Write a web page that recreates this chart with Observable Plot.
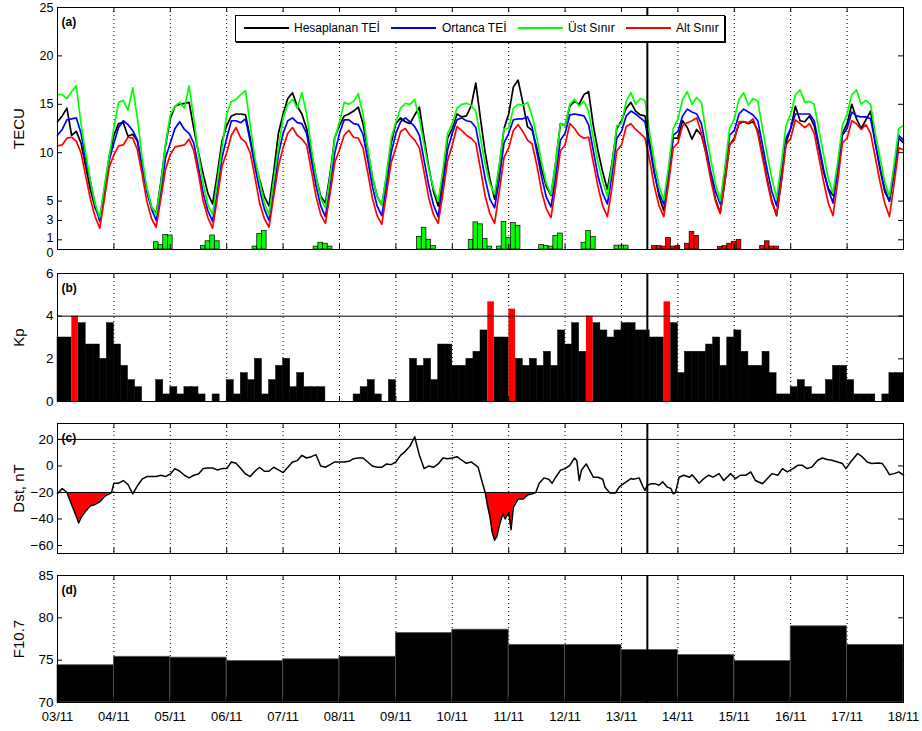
<!DOCTYPE html>
<html><head><meta charset="utf-8">
<script src="https://cdn.jsdelivr.net/npm/d3@7"></script>
<script src="https://cdn.jsdelivr.net/npm/@observablehq/plot@0.6"></script>
<style>
body{margin:0;background:#fff;}
#chart{position:relative;width:922px;height:731px;font-family:"Liberation Sans",Arial,Helvetica,sans-serif;overflow:hidden;}
#chart svg{position:absolute;left:0;overflow:visible;}
.legend{position:absolute;background:#fff;border:1px solid #000;box-shadow:1px 1px 0 #000;box-sizing:border-box;}
.legend .ln{position:absolute;height:0;border-top:2px solid;}
.legend .tx{position:absolute;font-size:12px;line-height:14px;white-space:nowrap;color:#000;}
</style></head>
<body><div id="chart"></div>
<script>
// ---------- DATA ----------
const dayLabels = ["03/11","04/11","05/11","06/11","07/11","08/11","09/11","10/11","11/11","12/11","13/11","14/11","15/11","16/11","17/11","18/11"];
const seriesNames = ["Hesaplanan TEİ","Ortanca TEİ","Üst Sınır","Alt Sınır"];
const seriesColors = ["#000000","#0000ff","#00ff00","#ff0000"];

// TEC, 2-hourly from 03/11 00:00 to 18/11 00:00
const tecBlack = [
13.2,13.8,14.6,11.8,12.2,11.0,8.6,6.2,4.3,3.3,6.3,9.6,
11.8,13.0,13.1,11.7,11.9,11.2,8.6,6.2,4.4,3.7,7.0,10.8,
13.5,14.8,15.0,15.1,15.2,12.5,10.0,7.8,5.8,4.7,7.8,11.2,
12.8,13.8,14.0,14.0,13.9,11.5,9.0,7.2,5.5,4.5,8.0,12.0,
14.0,15.6,16.2,14.8,14.0,12.5,10.0,7.5,5.5,4.8,7.8,11.6,
12.8,13.8,14.0,14.3,14.7,13.0,10.3,7.5,5.5,4.6,7.5,11.0,
13.0,13.6,13.2,13.0,13.9,14.7,11.5,8.5,6.0,4.5,7.5,11.5,
12.5,14.0,13.7,13.8,14.8,17.2,13.5,10.0,7.3,5.2,8.5,12.5,
14.0,16.8,17.5,15.2,12.7,12.3,10.5,8.3,6.5,5.6,9.0,13.0,
12.8,14.8,15.3,15.0,16.0,16.3,12.8,10.2,8.0,6.2,9.0,12.5,
13.3,14.6,15.2,14.3,13.9,13.8,11.0,8.0,5.5,4.0,7.5,11.5,
11.5,13.3,12.6,11.4,12.4,11.8,10.0,7.5,5.2,3.8,7.0,10.8,
11.5,13.0,13.2,13.0,13.2,12.3,9.8,7.2,5.0,3.5,7.0,11.0,
12.5,14.8,13.3,13.2,13.8,12.8,10.5,8.0,6.3,5.6,8.3,12.0,
13.0,15.0,13.5,12.5,13.4,14.3,11.0,8.3,6.0,5.0,8.0,11.5,
11.0];
const tecBlue = [
11.8,12.4,13.4,13.5,13.6,12.0,9.4,7.0,4.6,2.9,6.0,9.2,
11.0,12.6,13.3,12.9,12.3,11.3,8.6,6.0,4.2,3.0,6.0,9.5,
11.0,12.5,13.2,12.4,12.0,11.0,8.4,5.8,4.0,2.9,6.0,9.5,
11.5,13.3,13.3,13.1,13.5,11.2,8.6,6.2,4.2,3.0,6.0,9.8,
12.0,13.3,13.6,13.1,13.0,12.0,9.3,6.6,4.5,3.4,6.5,10.0,
12.0,13.4,13.4,13.0,12.9,11.9,9.3,6.5,4.5,3.5,6.5,10.0,
12.0,13.2,13.6,13.2,12.7,11.8,9.2,6.6,4.6,3.4,6.7,10.3,
12.0,13.4,13.6,13.3,13.2,12.6,10.0,7.3,5.2,4.3,7.3,11.0,
12.0,13.4,13.5,13.5,13.7,12.6,10.0,7.5,5.4,4.4,7.5,11.3,
12.0,13.9,14.0,13.9,13.8,12.9,10.2,7.6,5.8,4.7,7.8,11.5,
12.2,13.8,14.3,14.0,13.6,13.2,10.6,7.8,5.8,4.7,8.0,11.8,
12.2,13.8,14.5,14.2,14.0,13.0,10.5,8.0,6.0,4.7,8.0,11.8,
12.3,14.0,14.5,14.2,13.9,13.3,10.8,8.2,6.0,4.5,7.8,11.5,
12.5,14.0,14.0,14.0,14.0,13.3,10.8,8.3,6.2,4.8,8.0,11.8,
12.5,14.2,13.8,13.7,13.7,13.5,11.0,8.5,6.3,5.0,8.0,11.8,
11.3];
const tecGreen = [
16.0,16.0,15.6,16.3,16.9,13.0,9.9,7.1,4.7,3.3,6.6,9.6,
12.6,15.2,15.4,14.4,16.7,13.6,9.5,6.4,4.4,3.6,6.8,10.9,
13.9,14.8,15.2,14.6,16.9,13.5,9.8,6.8,4.6,3.6,7.0,10.5,
14.0,15.3,15.5,16.0,16.4,12.8,9.5,7.0,4.8,3.6,7.2,10.5,
13.6,15.0,15.5,14.6,16.2,14.0,10.5,7.5,5.3,4.3,7.5,11.5,
13.2,15.2,15.0,15.3,16.1,14.0,10.5,7.6,5.5,4.6,7.8,11.5,
13.2,14.6,15.1,15.0,15.5,13.5,10.8,8.3,6.3,5.0,8.2,12.0,
13.0,14.6,15.0,15.1,14.9,14.3,11.5,8.8,6.8,5.7,8.8,12.5,
12.5,14.6,15.0,14.9,15.2,13.8,11.5,9.0,6.8,5.7,9.0,13.0,
12.8,15.0,15.5,14.8,15.3,14.3,11.5,9.0,7.0,5.5,8.8,12.8,
13.0,15.3,16.2,15.0,15.6,15.4,12.0,9.0,6.5,5.1,8.5,12.5,
13.5,15.5,16.3,15.0,15.7,15.2,12.0,9.3,6.8,5.0,8.5,12.5,
13.5,15.5,16.2,14.9,15.6,15.3,12.5,9.8,7.3,5.3,8.8,12.8,
14.0,16.0,16.5,15.2,15.3,15.0,12.3,9.8,7.3,5.8,9.0,12.8,
14.0,16.0,16.5,15.0,15.4,15.0,12.0,9.5,7.0,5.5,8.8,12.5,
12.8];
const tecRed = [
10.7,10.8,11.5,11.6,11.2,10.0,7.6,5.2,3.4,2.2,5.3,8.5,
9.8,10.7,10.8,11.6,11.5,10.3,7.8,5.0,3.2,2.3,5.3,8.3,
9.8,10.6,10.7,10.8,11.4,10.2,7.8,5.0,3.3,2.2,5.3,8.6,
10.0,11.8,12.6,11.5,11.1,10.0,7.5,4.8,3.2,2.3,5.5,8.6,
10.5,12.0,12.6,11.8,11.4,10.8,8.2,5.5,3.6,2.7,5.8,9.0,
10.3,11.8,12.3,11.6,11.5,10.5,8.0,5.3,3.5,2.6,5.8,9.0,
10.5,12.2,12.5,11.8,11.3,10.5,8.0,5.3,3.6,2.7,5.8,9.2,
10.8,12.7,12.3,11.8,11.5,11.0,8.3,5.5,3.7,2.7,6.0,9.5,
10.5,12.3,12.9,12.2,11.3,10.9,8.7,6.0,4.2,3.3,6.5,10.2,
10.8,13.0,12.5,11.8,11.5,11.6,9.0,6.5,4.5,3.4,6.5,10.2,
10.8,12.7,13.0,12.4,12.0,11.5,9.2,6.5,4.5,3.4,6.8,10.5,
11.0,12.8,13.1,13.3,13.6,12.0,9.8,7.2,5.0,3.7,7.0,10.8,
11.3,13.2,13.2,13.1,13.5,12.0,9.5,7.0,4.8,3.6,7.0,10.8,
11.5,13.4,13.0,12.6,13.0,12.0,9.5,7.0,4.8,3.5,7.0,11.0,
11.5,13.3,13.0,12.4,12.9,12.0,9.5,7.0,4.8,3.4,6.8,10.5,
10.3];

// Anomaly bars (hours from 03/11 00:00), 2-hour wide
const upperBarHours  = [42,44,46,48, 62,64,66,68, 84,86,88, 110,112,114,116, 154,156,158,160, 176,178,180,182,184, 188,190,192,194,196, 206,208,210,212,214, 224,226,228, 238,240,242];
const upperBarValues = [0.75,0.45,1.5,1.45, 0.35,0.85,1.45,0.85, 0.3,1.6,1.9, 0.3,0.7,0.6,0.3, 1.3,2.25,1.0,0.35, 1.0,2.8,2.6,1.1,0.3, 0.3,2.85,1.2,2.75,2.45, 0.45,0.35,0.3,1.4,1.65, 0.7,1.9,1.3, 0.4,0.4,0.4];
const lowerBarHours  = [254,256,258,260,262,264, 268,270,272, 282,284,286,288,290, 300,302,304,306];
const lowerBarValues = [0.35,0.35,0.3,1.2,0.3,0.35, 0.6,1.8,1.4, 0.27,0.35,0.6,0.8,1.0, 0.35,0.85,0.3,0.3];

// Kp, 3-hourly
const kpValues = [
3,3,4,3.67,2.67,2.67,2,3.67,
2.67,1.67,1,0.67,0,0,1,0.33,
0.67,0.33,0.67,0.67,0.33,0,0.33,0,
1,0.33,1.33,1,2,0.33,1,1.67,
2,0.67,1.33,0.67,0.67,0.67,0,0,
0,0,0.33,0.67,1,0.33,0,1,
0,0,2,1.67,2,1,2.67,2.67,
1.67,1.67,2,2.33,3.33,4.67,3,3,
4.33,2,1.67,2,1.67,2.33,1.67,3.33,
2.67,3.67,2.33,4,3.67,3.33,3,3.33,
3.67,3.67,3.33,3.33,3,3,4.67,3.67,
1.33,2.33,2.33,2.33,2.67,3,1.67,3,
3.33,2.33,1.67,1.67,2.33,1.33,0.33,0.33,
0.67,1,0.67,0.33,0.33,1,1.67,1.67,
1,0.33,0.33,0.33,0,0.33,1.33,1.33];

// Dst (hours from 03/11 00:00, nT)
const dstHour = [0,2,4,6,8,9,10,12,14,16,18,20,22,23,
24,26,28,30,32,34,36,38,40,42,44,46,
48,50,52,54,56,58,60,62,64,66,68,70,
72,74,76,78,80,82,84,86,88,90,92,94,
96,98,100,102,104,106,108,110,112,114,116,118,
120,122,124,126,128,130,132,134,136,138,140,142,
144,146,148,150,152,154,156,158,160,162,164,166,
168,170,172,174,176,178,179,181,182,183,184,185,186,187,188,189.5,190.5,192,193,194,196,198,200,202,203.5,205,207,209,210.5,212,214,216,218,220,221,222,223,225,227,228,230,232,233,235,237.5,239,240,242,244,245,247.5,249,250,251,252.5,254.5,256,257.5,259.5,261,262,263,264.5,266.5,269,270,271.5,273,275,277,279,281.5,283.5,286.5,288.5,290.5,293,295,297,300,302,304,306.5,308.5,310.5,313,315,317,319,321,323.5,325.5,327.5,329.5,332,334,335.5,337.5,340.5,342.5,344.5,346.5,349,351,352.5,354,356,358,360];
const dstValue = [-21,-17,-20,-29,-38,-43,-39,-34,-30,-29,-27,-23,-21,-20,
-13,-13,-11,-14,-21,-15,-10,-8,-8,-8,-7,-8,
-6,-2,-4,-7,-9,-7,-6,-2,-1.5,-1.5,-3,-2,
-2,3,2,-2,-6,-8,-4,-1,-4,-4,-1,-3,
-5,-1,3,4,8,6,7,8.5,0,-1,1,3,
3,3,3.5,5.5,6,6,3,0,-1,-1,1.5,1,
3,8,11,15,22,8,-2,0,-1,1.5,6,5.5,
6,7,4.3,2,3,0.5,-1,-14,-20,-30,-38,-50,-56,-53,-45,-36,-40,-35,-48,-31,-25,-25,-22,-21,-20,-13,-9,-10,-13,-8.5,-3.3,-2,0.5,6,4,-11,-3,1.5,-5,-8.5,-8.5,-10,-16,-20.3,-20.3,-16,-14.5,-12,-9.5,-10,-9,-15,-18.5,-14.5,-13.5,-13.5,-14.5,-12,-16,-17,-21,-20,-8.5,-7,-8.5,-6.6,-9.6,-13,-9.6,-7,-8.4,-5.8,-11,-5.8,-9.6,-7,-7,-4.5,-11,-13.4,-9.6,-5.8,-7,-2,-4.5,-2,0.5,0.5,-2,-0.8,4.3,6,4.8,4.3,3,1.8,-2,3,9.4,6.8,3,1.8,2.3,1.8,-2,-6.6,-5.8,-4.5,-7];

// F10.7 daily values
const f107 = [74.4,75.4,75.3,74.9,75.1,75.4,78.2,78.6,76.8,76.8,76.2,75.6,74.9,79.0,76.8];

const eventHour = 251; // 13/11 ~11 UT

// ---------- LAYOUT ----------
const W = 922, ML = 57, MR = 19, innerW = W - ML - MR;
const FONT = '"Liberation Sans", Arial, Helvetica, sans-serif';
const dayHours = d3.range(16).map(d => d * 24);
const chart = document.getElementById("chart");

function panel({top, height, mt, mb, yDomain, yTicks, yLabel, tag, marks, xLabels = false, tickFont = 13.5, labelNudge = {}}) {
  const ph = height - mt - mb;
  const plain = yTicks.filter(t => !(t in labelNudge));
  const nudged = yTicks.filter(t => t in labelNudge);
  const p = Plot.plot({
    width: W, height, marginLeft: ML, marginRight: MR, marginTop: mt, marginBottom: mb,
    style: {fontFamily: FONT, fontSize: "13px", color: "black", background: "transparent", overflow: "visible"},
    x: {domain: [0, 360], axis: null},
    y: {domain: yDomain, axis: null},
    marks: [
      Plot.ruleX(dayHours.slice(1, -1), {stroke: "black", strokeWidth: 1, strokeDasharray: "1,3"}),
      ...marks,
      Plot.ruleX([eventHour], {stroke: "black", strokeWidth: 2}),
      Plot.tickY(yTicks, {y: d => d, stroke: "black", insetRight: innerW - 5}),
      Plot.tickY(yTicks, {y: d => d, stroke: "black", insetLeft: innerW - 5}),
      Plot.tickX(dayHours, {x: d => d, stroke: "black", insetBottom: ph - 5}),
      Plot.tickX(dayHours, {x: d => d, stroke: "black", insetTop: ph - 5}),
      Plot.frame({stroke: "black", strokeWidth: 1}),
      Plot.axisY(plain, {tickSize: 0, tickPadding: 4, fontSize: tickFont, label: null}),
      ...nudged.map(t => Plot.axisY([t], {tickSize: 0, tickPadding: 4, fontSize: tickFont, label: null, dy: labelNudge[t]})),
      xLabels ? Plot.axisX(dayHours, {tickSize: 0, tickPadding: 9, fontSize: 13, label: null, tickFormat: d => dayLabels[Math.round(d / 24)]}) : null,
      Plot.text([yLabel], {frameAnchor: "left", dx: -38, rotate: -90, textAnchor: "middle", lineAnchor: "middle", fontSize: 15}),
      Plot.text([tag], {frameAnchor: "top-left", dx: 4, dy: 10, fontWeight: "bold", fontSize: 12})
    ]
  });
  p.style.top = top + "px";
  chart.appendChild(p);
}

// Panel (a)
const tecHours = d3.range(0, 361, 2);
const tec = tecHours.map((h, i) => ({h, black: tecBlack[i], blue: tecBlue[i], green: tecGreen[i], red: tecRed[i]}));
const upperBars = upperBarHours.map((h, i) => ({h, v: upperBarValues[i]}));
const lowerBars = lowerBarHours.map((h, i) => ({h, v: lowerBarValues[i]}));
panel({
  top: 0, height: 256, mt: 7, mb: 7, yDomain: [0, 25], yTicks: [0, 1, 3, 5, 10, 15, 20, 25],
  yLabel: "TECU", tag: "(a)", tickFont: 12.5, labelNudge: {0: 3, 1: -2},
  marks: [
    Plot.rectY(upperBars, {x1: d => d.h - 1, x2: d => d.h + 1, y: "v", fill: seriesColors[2], stroke: "#000", strokeWidth: 0.7}),
    Plot.rectY(lowerBars, {x1: d => d.h - 1, x2: d => d.h + 1, y: "v", fill: seriesColors[3], stroke: "#000", strokeWidth: 0.7}),
    Plot.line(tec, {x: "h", y: "black", stroke: seriesColors[0], strokeWidth: 1.7}),
    Plot.line(tec, {x: "h", y: "blue", stroke: seriesColors[1], strokeWidth: 1.7}),
    Plot.line(tec, {x: "h", y: "green", stroke: seriesColors[2], strokeWidth: 1.7}),
    Plot.line(tec, {x: "h", y: "red", stroke: seriesColors[3], strokeWidth: 1.7})
  ]
});

// Panel (b)
const kp = kpValues.map((v, i) => ({t: i * 3, v}));
panel({
  top: 266, height: 142, mt: 7, mb: 7, yDomain: [0, 6], yTicks: [0, 2, 4, 6],
  yLabel: "Kp", tag: "(b)",
  marks: [
    Plot.rectY(kp.filter(d => d.v < 4), {x1: "t", x2: d => d.t + 3, y: "v", fill: "black", stroke: "black", strokeWidth: 0.5}),
    Plot.rectY(kp.filter(d => d.v >= 4), {x1: d => d.t + 0.1, x2: d => d.t + 2.9, y: "v", fill: "red"}),
    Plot.ruleY([4], {stroke: "black", strokeWidth: 1})
  ]
});

// Panel (c)
const dst = dstHour.map((h, i) => ({h, v: dstValue[i]}));
panel({
  top: 416, height: 144, mt: 7, mb: 7, yDomain: [-66, 32], yTicks: [-60, -40, -20, 0, 20],
  yLabel: "Dst, nT", tag: "(c)",
  marks: [
    Plot.areaY(dst, {x: "h", y1: -20, y2: d => Math.min(d.v, -20), fill: "red"}),
    Plot.ruleY([20, -20], {stroke: "black", strokeWidth: 1}),
    Plot.line(dst, {x: "h", y: "v", stroke: "black", strokeWidth: 1.5})
  ]
});

// Panel (d)
const f = f107.map((v, i) => ({t: i * 24, v}));
panel({
  top: 568, height: 163, mt: 7, mb: 29, yDomain: [70, 85], yTicks: [70, 75, 80, 85],
  yLabel: "F10.7", tag: "(d)", xLabels: true,
  marks: [
    Plot.rectY(f, {x1: "t", x2: d => d.t + 24, y1: 70, y2: "v", fill: "black", stroke: "#555", strokeWidth: 0.8})
  ]
});

// Legend (panel a)
const leg = document.createElement("div");
leg.className = "legend";
Object.assign(leg.style, {left: "235px", top: "15px", width: "490px", height: "27px"});
const lineX = [8, 155, 282, 390];
const textX = [58, 206, 332, 440];
seriesNames.forEach((name, i) => {
  const ln = document.createElement("div");
  ln.className = "ln";
  Object.assign(ln.style, {left: lineX[i] + "px", width: "45px", top: "11px", borderTopColor: seriesColors[i]});
  leg.appendChild(ln);
  const tx = document.createElement("div");
  tx.className = "tx";
  tx.textContent = name;
  Object.assign(tx.style, {left: textX[i] + "px", top: "5px"});
  leg.appendChild(tx);
});
chart.appendChild(leg);
</script></body></html>
